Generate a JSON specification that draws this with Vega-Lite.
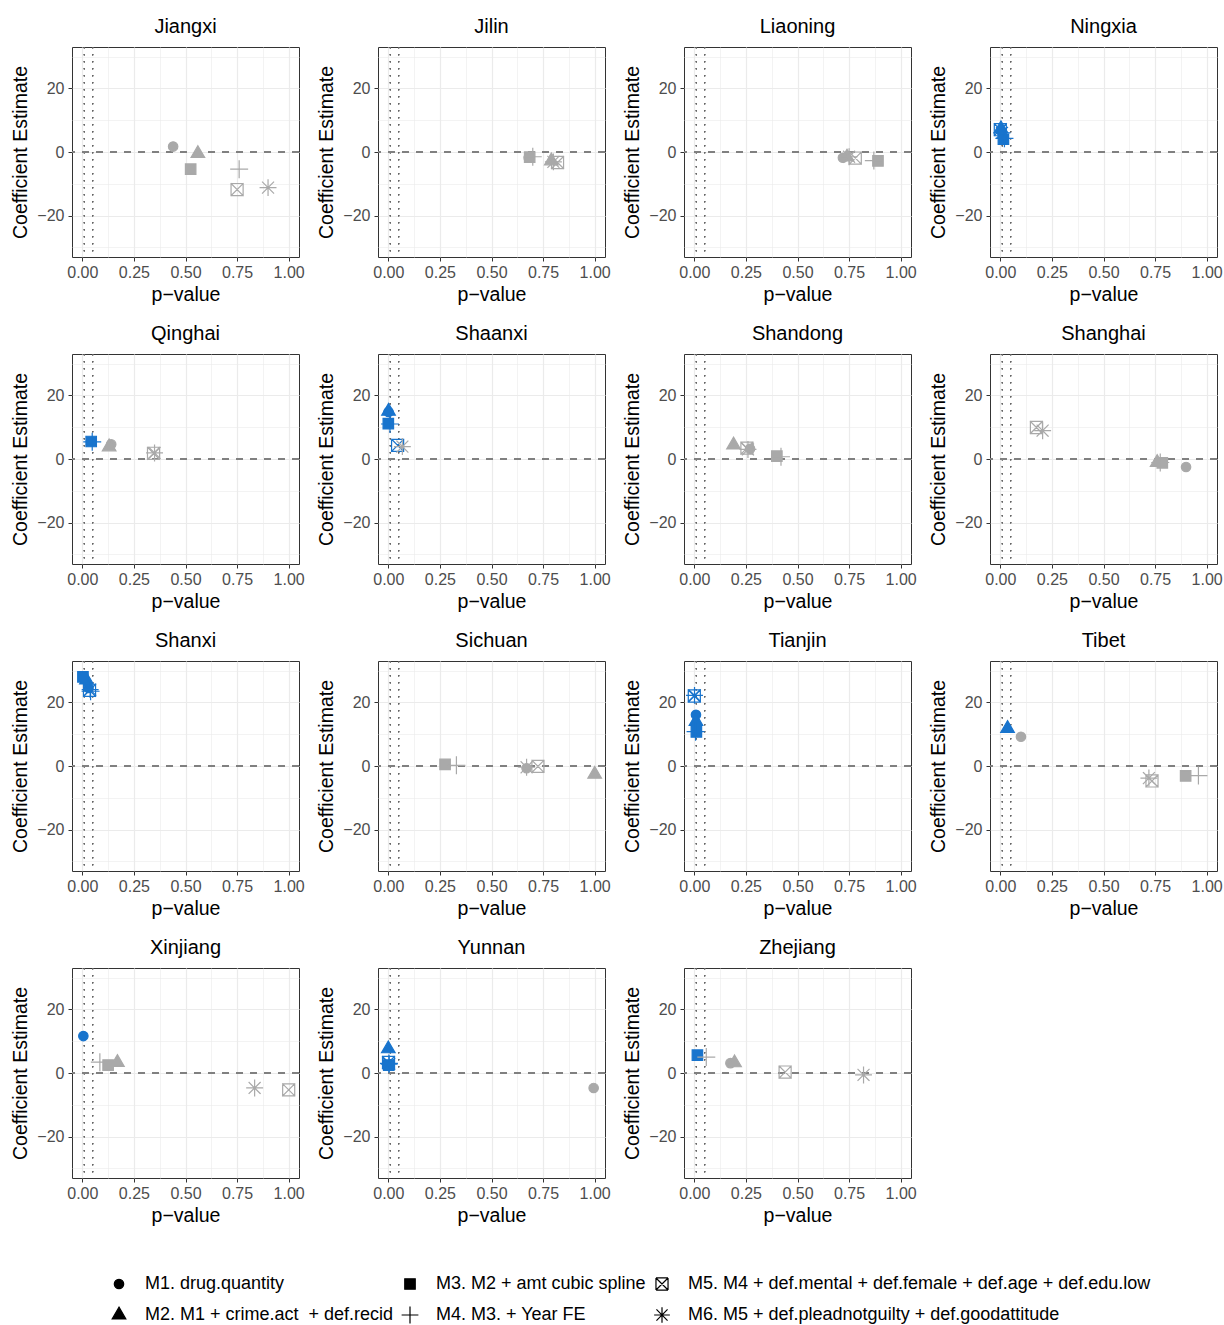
{
  "$schema": "https://vega.github.io/schema/vega-lite/v6.json",
  "padding": {"left": 10, "top": 16, "right": 5, "bottom": 5},
  "data": {"values": [
    {"province": "Jiangxi", "model": "M1", "p": 0.44, "coef": 1.7},
    {"province": "Jiangxi", "model": "M2", "p": 0.56, "coef": -0.5},
    {"province": "Jiangxi", "model": "M3", "p": 0.525, "coef": -5.4},
    {"province": "Jiangxi", "model": "M4", "p": 0.76, "coef": -5.4},
    {"province": "Jiangxi", "model": "M5", "p": 0.75, "coef": -11.8},
    {"province": "Jiangxi", "model": "M6", "p": 0.9, "coef": -11.2},
    {"province": "Jilin", "model": "M1", "p": 0.68, "coef": -1.8},
    {"province": "Jilin", "model": "M2", "p": 0.79, "coef": -2.8},
    {"province": "Jilin", "model": "M3", "p": 0.685, "coef": -1.6},
    {"province": "Jilin", "model": "M4", "p": 0.7, "coef": -1.5},
    {"province": "Jilin", "model": "M5", "p": 0.82, "coef": -3.3},
    {"province": "Jilin", "model": "M6", "p": 0.8, "coef": -3.1},
    {"province": "Liaoning", "model": "M1", "p": 0.72, "coef": -1.8},
    {"province": "Liaoning", "model": "M2", "p": 0.74, "coef": -1.6},
    {"province": "Liaoning", "model": "M3", "p": 0.89, "coef": -2.8},
    {"province": "Liaoning", "model": "M4", "p": 0.87, "coef": -2.7},
    {"province": "Liaoning", "model": "M5", "p": 0.78, "coef": -1.9},
    {"province": "Liaoning", "model": "M6", "p": 0.75, "coef": -1.5},
    {"province": "Ningxia", "model": "M1", "p": 0.005, "coef": 6.5},
    {"province": "Ningxia", "model": "M2", "p": 0.003, "coef": 7.3},
    {"province": "Ningxia", "model": "M3", "p": 0.015, "coef": 4.0},
    {"province": "Ningxia", "model": "M4", "p": 0.02, "coef": 4.3},
    {"province": "Ningxia", "model": "M5", "p": 0.0, "coef": 7.0},
    {"province": "Ningxia", "model": "M6", "p": 0.008, "coef": 6.0},
    {"province": "Qinghai", "model": "M1", "p": 0.14, "coef": 4.6},
    {"province": "Qinghai", "model": "M2", "p": 0.13, "coef": 3.8},
    {"province": "Qinghai", "model": "M3", "p": 0.043, "coef": 5.5},
    {"province": "Qinghai", "model": "M4", "p": 0.048, "coef": 5.4},
    {"province": "Qinghai", "model": "M5", "p": 0.345, "coef": 1.8},
    {"province": "Qinghai", "model": "M6", "p": 0.35, "coef": 1.9},
    {"province": "Shaanxi", "model": "M1", "p": 0.001, "coef": 14.8},
    {"province": "Shaanxi", "model": "M2", "p": 0.001, "coef": 15.0},
    {"province": "Shaanxi", "model": "M3", "p": 0.0, "coef": 11.1},
    {"province": "Shaanxi", "model": "M4", "p": 0.008, "coef": 11.0},
    {"province": "Shaanxi", "model": "M5", "p": 0.045, "coef": 4.3},
    {"province": "Shaanxi", "model": "M6", "p": 0.068, "coef": 3.9},
    {"province": "Shandong", "model": "M1", "p": 0.27, "coef": 3.2},
    {"province": "Shandong", "model": "M2", "p": 0.19, "coef": 4.4},
    {"province": "Shandong", "model": "M3", "p": 0.4, "coef": 0.9},
    {"province": "Shandong", "model": "M4", "p": 0.42, "coef": 0.7},
    {"province": "Shandong", "model": "M5", "p": 0.255, "coef": 3.4},
    {"province": "Shandong", "model": "M6", "p": 0.26, "coef": 3.0},
    {"province": "Shanghai", "model": "M1", "p": 0.9, "coef": -2.5},
    {"province": "Shanghai", "model": "M2", "p": 0.76, "coef": -1.1},
    {"province": "Shanghai", "model": "M3", "p": 0.785, "coef": -1.2},
    {"province": "Shanghai", "model": "M4", "p": 0.775, "coef": -1.1},
    {"province": "Shanghai", "model": "M5", "p": 0.175, "coef": 9.9},
    {"province": "Shanghai", "model": "M6", "p": 0.205, "coef": 8.9},
    {"province": "Shanxi", "model": "M1", "p": 0.03, "coef": 24.5},
    {"province": "Shanxi", "model": "M2", "p": 0.02, "coef": 27.0},
    {"province": "Shanxi", "model": "M3", "p": 0.003, "coef": 28.0},
    {"province": "Shanxi", "model": "M4", "p": 0.04, "coef": 23.5},
    {"province": "Shanxi", "model": "M5", "p": 0.035, "coef": 23.8},
    {"province": "Shanxi", "model": "M6", "p": 0.038, "coef": 24.0},
    {"province": "Sichuan", "model": "M1", "p": 0.67, "coef": -0.7},
    {"province": "Sichuan", "model": "M2", "p": 1.0, "coef": -2.6},
    {"province": "Sichuan", "model": "M3", "p": 0.275, "coef": 0.5},
    {"province": "Sichuan", "model": "M4", "p": 0.33, "coef": 0.2},
    {"province": "Sichuan", "model": "M5", "p": 0.725, "coef": -0.1},
    {"province": "Sichuan", "model": "M6", "p": 0.67, "coef": -0.4},
    {"province": "Tianjin", "model": "M1", "p": 0.008, "coef": 16.1},
    {"province": "Tianjin", "model": "M2", "p": 0.008, "coef": 14.0},
    {"province": "Tianjin", "model": "M3", "p": 0.01, "coef": 10.7},
    {"province": "Tianjin", "model": "M4", "p": 0.006, "coef": 10.8},
    {"province": "Tianjin", "model": "M5", "p": 0.0, "coef": 22.0},
    {"province": "Tianjin", "model": "M6", "p": 0.001, "coef": 22.2},
    {"province": "Tibet", "model": "M1", "p": 0.1, "coef": 9.2},
    {"province": "Tibet", "model": "M2", "p": 0.035, "coef": 11.8},
    {"province": "Tibet", "model": "M3", "p": 0.898, "coef": -3.1},
    {"province": "Tibet", "model": "M4", "p": 0.96, "coef": -3.0},
    {"province": "Tibet", "model": "M5", "p": 0.735, "coef": -4.7},
    {"province": "Tibet", "model": "M6", "p": 0.72, "coef": -3.8},
    {"province": "Xinjiang", "model": "M1", "p": 0.005, "coef": 11.6},
    {"province": "Xinjiang", "model": "M2", "p": 0.17, "coef": 3.3},
    {"province": "Xinjiang", "model": "M3", "p": 0.125, "coef": 2.5},
    {"province": "Xinjiang", "model": "M4", "p": 0.085, "coef": 3.4},
    {"province": "Xinjiang", "model": "M5", "p": 1.0, "coef": -5.3},
    {"province": "Xinjiang", "model": "M6", "p": 0.835, "coef": -4.7},
    {"province": "Yunnan", "model": "M1", "p": 0.995, "coef": -4.7},
    {"province": "Yunnan", "model": "M2", "p": 0.0, "coef": 7.6},
    {"province": "Yunnan", "model": "M3", "p": 0.002, "coef": 2.5},
    {"province": "Yunnan", "model": "M4", "p": 0.003, "coef": 3.0},
    {"province": "Yunnan", "model": "M5", "p": 0.001, "coef": 3.3},
    {"province": "Yunnan", "model": "M6", "p": 0.004, "coef": 2.8},
    {"province": "Zhejiang", "model": "M1", "p": 0.175, "coef": 3.1},
    {"province": "Zhejiang", "model": "M2", "p": 0.195, "coef": 3.2},
    {"province": "Zhejiang", "model": "M3", "p": 0.015, "coef": 5.6},
    {"province": "Zhejiang", "model": "M4", "p": 0.058, "coef": 5.0},
    {"province": "Zhejiang", "model": "M5", "p": 0.44, "coef": 0.3},
    {"province": "Zhejiang", "model": "M6", "p": 0.82, "coef": -0.6}
  ]},
  "facet": {"field": "province", "type": "nominal", "header": {"title": null, "labelFontSize": 20, "labelColor": "black", "labelPadding": 9}},
  "columns": 4,
  "spacing": {"column": 11, "row": 19},
  "resolve": {"axis": {"x": "independent", "y": "independent"}},
  "spec": {
    "width": 227,
    "height": 210,
    "encoding": {
      "x": {"field": "p", "type": "quantitative", "title": "p\u2212value",
        "scale": {"domain": [-0.05, 1.05], "nice": false, "zero": false},
        "axis": {"values": [0, 0.125, 0.25, 0.375, 0.5, 0.625, 0.75, 0.875, 1], "format": ".2f",
          "labelExpr": "(datum.value*4)%1===0 ? format(datum.value, '.2f') : ''",
          "tickOpacity": {"condition": {"test": "(datum.value*4)%1===0", "value": 1}, "value": 0},
          "gridWidth": {"condition": {"test": "(datum.value*4)%1===0", "value": 1.2}, "value": 0.6},
          "labelPadding": 3, "titlePadding": 5}},
      "y": {"field": "coef", "type": "quantitative", "title": "Coefficient Estimate",
        "scale": {"domain": [-33, 33], "nice": false, "zero": false},
        "axis": {"values": [-30, -20, -10, 0, 10, 20, 30],
          "labelExpr": "datum.value%20===0 ? datum.label : ''",
          "tickOpacity": {"condition": {"test": "datum.value%20===0", "value": 1}, "value": 0},
          "gridWidth": {"condition": {"test": "datum.value%20===0", "value": 1.2}, "value": 0.6},
          "labelPadding": 4, "titlePadding": 6}}
    },
    "layer": [
      {"mark": {"type": "rule", "strokeDash": [1.3, 5.7], "color": "#666666", "strokeWidth": 1.1},
       "encoding": {"x": {"datum": 0.01, "type": "quantitative"}, "y": null}},
      {"mark": {"type": "rule", "strokeDash": [1.3, 5.7], "color": "#666666", "strokeWidth": 1.1},
       "encoding": {"x": {"datum": 0.05, "type": "quantitative"}, "y": null}},
      {"mark": {"type": "rule", "strokeDash": [7, 7], "color": "#808080", "strokeWidth": 1.3},
       "encoding": {"y": {"datum": 0, "type": "quantitative"}, "x": null}},
      {"mark": {"type": "point", "filled": true, "opacity": 1, "size": 110, "strokeWidth": 1.2, "strokeCap": "square"},
       "encoding": {
         "shape": {"field": "model", "type": "nominal",
           "scale": {"domain": ["M1", "M3", "M5", "M2", "M4", "M6"],
             "range": [
               "M-0.9,0A0.9,0.9 0 1,0 0.9,0A0.9,0.9 0 1,0 -0.9,0Z",
               "M-1,-1L1,-1L1,1L-1,1Z",
               "M-1.15,-1.15L1.15,-1.15M1.15,-1.15L1.15,1.15M1.15,1.15L-1.15,1.15M-1.15,1.15L-1.15,-1.15M-1.15,-1.15L1.15,1.15M-1.15,1.15L1.15,-1.15",
               "M0,-1.5L1.3,0.75L-1.3,0.75Z",
               "M-1.6,0L1.6,0M0,-1.6L0,1.6",
               "M-1.5,0L1.5,0M0,-1.5L0,1.5M-1.06,-1.06L1.06,1.06M-1.06,1.06L1.06,-1.06"
             ]},
           "legend": {"title": null, "orient": "none", "legendX": 38, "legendY": 1228, "direction": "horizontal", "columns": 3,
             "labelFontSize": 18, "labelColor": "black", "symbolSize": 110, "symbolStrokeWidth": 1.2,
             "rowPadding": 11, "columnPadding": 5, "labelOffset": 17, "labelLimit": 700,
             "labelExpr": "{'M1': 'M1. drug.quantity', 'M2': 'M2. M1 + crime.act \u00a0+ def.recid', 'M3': 'M3. M2 + amt cubic spline', 'M4': 'M4. M3. + Year FE', 'M5': 'M5. M4 + def.mental + def.female + def.age + def.edu.low', 'M6': 'M6. M5 + def.pleadnotguilty + def.goodattitude'}[datum.label]"}},
         "fill": {"condition": [{"test": "datum.p < 0.05", "value": "#1874CD"}, {"test": "datum.p >= 0.05", "value": "#A9A9A9"}], "value": "black"},
         "stroke": {"condition": [{"test": "datum.p < 0.05", "value": "#1874CD"}, {"test": "datum.p >= 0.05", "value": "#A9A9A9"}], "value": "black"}
       }},
      {"transform": [
         {"filter": {"field": "province", "oneOf": ["Ningxia", "Shaanxi", "Shanxi", "Tianjin", "Yunnan"]}},
         {"aggregate": [{"op": "count", "as": "n"}], "groupby": ["province"]}],
       "mark": {"type": "rect", "fill": null, "filled": false, "stroke": "#1874CD", "strokeWidth": 4},
       "encoding": {
         "x": {"datum": -0.043, "type": "quantitative"}, "x2": {"datum": 1.043},
         "y": {"datum": -32.2, "type": "quantitative"}, "y2": {"datum": 32.2}
       }}
    ]
  },
  "config": {
    "font": "Liberation Sans",
    "view": {"stroke": "#333333", "strokeWidth": 1},
    "axis": {"domain": false, "tickColor": "#333333", "tickSize": 4, "labelColor": "#4D4D4D", "labelFontSize": 16,
      "titleFontSize": 19.5, "titleFontWeight": "normal", "titleColor": "black", "gridColor": "#EBEBEB"},
    "header": {"labelFont": "Liberation Sans"}
  }
}
